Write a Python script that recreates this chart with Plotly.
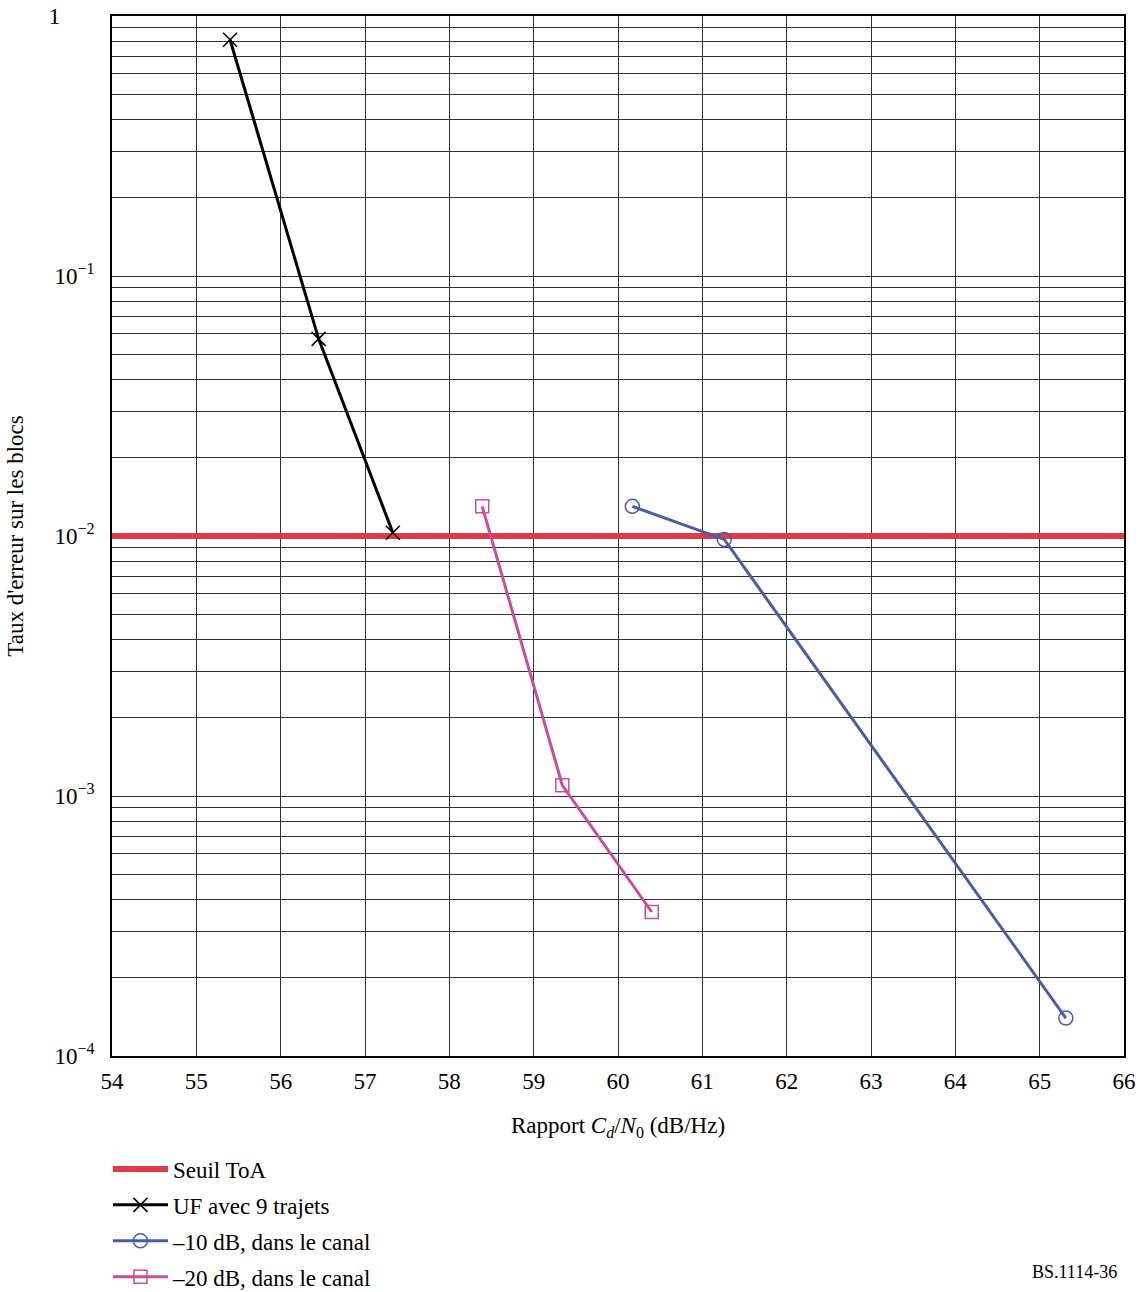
import plotly.graph_objects as go

# Data
x_range = [54, 66]
y_range_exp = [-4, 0]
threshold = 0.01

uf_x = [55.40, 56.45, 57.33]
uf_y = [0.81, 0.0573, 0.0103]

m10_x = [60.17, 61.26, 65.31]
m10_y = [0.0130, 0.0097, 0.000140]

m20_x = [58.39, 59.34, 60.40]
m20_y = [0.0130, 0.00110, 0.000358]

x_ticks = list(range(54, 67))
y_tickvals = [1, 0.1, 0.01, 0.001, 0.0001]
y_ticktext = ["1" + "\u00a0" * 6, "10<sup>\u22121</sup>", "10<sup>\u22122</sup>",
              "10<sup>\u22123</sup>", "10<sup>\u22124</sup>"]

RED = "#e0394a"
BLACK = "#000000"
BLUE = "#4a5ca8"
PINK = "#c94e96"
FONT = "Liberation Serif"
FS = 23

fig = go.Figure()

fig.add_trace(go.Scatter(
    x=x_range, y=[threshold, threshold], mode="lines",
    line=dict(color=RED, width=6), name="Seuil ToA", legendgroup="a"))

fig.add_trace(go.Scatter(
    x=uf_x, y=uf_y, mode="lines+markers",
    line=dict(color=BLACK, width=3),
    marker=dict(symbol="x-thin", size=14, line=dict(color=BLACK, width=1.5)),
    name="UF avec 9 trajets", legendgroup="b"))

fig.add_trace(go.Scatter(
    x=m10_x, y=m10_y, mode="lines+markers",
    line=dict(color=BLUE, width=3),
    marker=dict(symbol="circle-open", size=14, line=dict(color=BLUE, width=1.5)),
    name="\u201310 dB, dans le canal", legendgroup="c"))

fig.add_trace(go.Scatter(
    x=m20_x, y=m20_y, mode="lines+markers",
    line=dict(color=PINK, width=3),
    marker=dict(symbol="square-open", size=13, line=dict(color=PINK, width=1.5)),
    name="\u201320 dB, dans le canal", legendgroup="d"))

fig.update_layout(
    width=1140, height=1292,
    margin=dict(l=112, r=16, t=16, b=236, autoexpand=False),
    paper_bgcolor="white", plot_bgcolor="white",
    font=dict(family=FONT, size=FS, color="black"),
    showlegend=True,
    legend=dict(x=-0.004, y=-0.088, xanchor="left", yanchor="top",
                orientation="v", tracegroupgap=3, itemwidth=55,
                font=dict(size=FS, family=FONT), bgcolor="rgba(0,0,0,0)"),
    annotations=[dict(text="BS.1114-36", x=0.995, y=-0.2077, xref="paper", yref="paper",
                      xanchor="right", yanchor="middle", showarrow=False,
                      font=dict(size=18, family=FONT))],
)

fig.update_xaxes(
    range=x_range, tickvals=x_ticks, ticks="", ticklabelstandoff=4, automargin=False,
    ticklabeloverflow="allow",
    showgrid=True, gridcolor="#333333", gridwidth=1,
    showline=True, linecolor="black", linewidth=1.5, mirror=True, zeroline=False,
    title=dict(text="Rapport <i>C<sub>d</sub></i>/<i>N</i><sub>0</sub> (dB/Hz)", standoff=24,
               font=dict(size=FS, family=FONT)),
    tickfont=dict(size=FS, family=FONT))

fig.update_yaxes(
    type="log", range=y_range_exp, tickvals=y_tickvals, ticktext=y_ticktext,
    ticks="", ticklabelstandoff=11, automargin=False,
    ticklabeloverflow="allow",
    showgrid=True, gridcolor="#333333", gridwidth=1,
    minor=dict(dtick="D1", showgrid=True, gridcolor="#333333", gridwidth=1, ticks=""),
    showline=True, linecolor="black", linewidth=1.5, mirror=True, zeroline=False,
    title=dict(text="Taux d'erreur sur les blocs", standoff=19,
               font=dict(size=FS, family=FONT)),
    tickfont=dict(size=FS, family=FONT))

fig.write_html("out.html",
               config={"displayModeBar": False},
               post_script="document.body.style.margin='0';document.body.style.overflow='hidden';")
